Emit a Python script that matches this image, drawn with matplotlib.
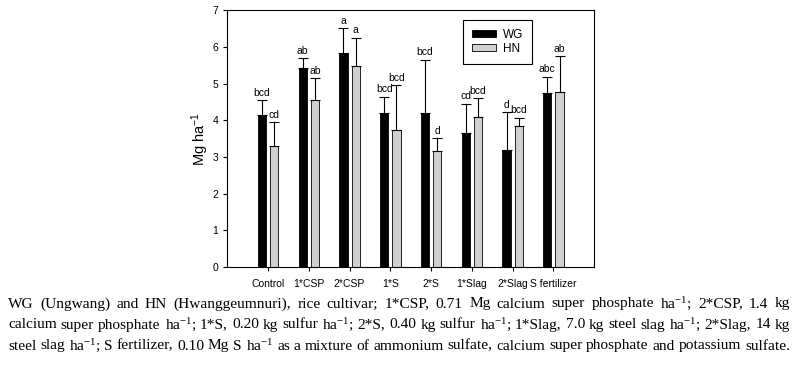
import matplotlib
matplotlib.use("Agg")
import matplotlib.pyplot as plt
import numpy as np

plt.rcParams['font.family'] = ['Liberation Sans', 'DejaVu Sans']
plt.rcParams['mathtext.default'] = 'regular'

treatments = ["Control", "1*CSP", "2*CSP", "1*S", "2*S", "1*Slag", "2*Slag", "S fertilizer"]
wg_mean = [4.13, 5.43, 5.82, 4.19, 4.19, 3.66, 3.19, 4.73]
wg_err = [0.41, 0.26, 0.68, 0.45, 1.45, 0.79, 1.02, 0.46]
hn_mean = [3.30, 4.56, 5.47, 3.74, 3.15, 4.08, 3.83, 4.77]
hn_err = [0.64, 0.58, 0.77, 1.21, 0.36, 0.52, 0.23, 0.97]
wg_letters = ["bcd", "ab", "a", "bcd", "bcd", "cd", "d", "abc"]
hn_letters = ["cd", "ab", "a", "bcd", "d", "bcd", "bcd", "ab"]

caption_lines = [
    "WG (Ungwang) and HN (Hwanggeumnuri), rice cultivar; 1*CSP, 0.71 Mg calcium super phosphate ha$^{-1}$; 2*CSP, 1.4 kg",
    "calcium super phosphate ha$^{-1}$; 1*S, 0.20 kg sulfur ha$^{-1}$; 2*S, 0.40 kg sulfur ha$^{-1}$; 1*Slag, 7.0 kg steel slag ha$^{-1}$; 2*Slag, 14 kg",
    "steel slag ha$^{-1}$; S fertilizer, 0.10 Mg S ha$^{-1}$ as a mixture of ammonium sulfate, calcium super phosphate and potassium sulfate.",
]

fig = plt.figure(figsize=(8, 3.68), dpi=100)
ax = fig.add_axes([0.284, 0.2745, 0.4588, 0.698])

x = np.arange(len(treatments))
w = 0.2
off = 0.15
ax.bar(x - off, wg_mean, w, color="black", edgecolor="black", linewidth=0.6, label="WG", zorder=2)
ax.bar(x + off, hn_mean, w, color="#d0d0d0", edgecolor="black", linewidth=0.6, label="HN", zorder=2)
ax.errorbar(x - off, wg_mean, yerr=[np.zeros(len(x)), wg_err], fmt="none", ecolor="black",
            elinewidth=0.8, capsize=3.5, capthick=0.8, zorder=3)
ax.errorbar(x + off, hn_mean, yerr=[np.zeros(len(x)), hn_err], fmt="none", ecolor="black",
            elinewidth=0.8, capsize=3.5, capthick=0.8, zorder=3)

for i in range(len(x)):
    ax.text(x[i] - off, wg_mean[i] + wg_err[i] + 0.07, wg_letters[i], ha="center", va="bottom", fontsize=7.5)
    ax.text(x[i] + off, hn_mean[i] + hn_err[i] + 0.07, hn_letters[i], ha="center", va="bottom", fontsize=7.5)

ax.set_xlim(-1, 8)
ax.set_ylim(0, 7)
ax.set_xticks(x)
ax.set_xticklabels(treatments, fontsize=7.5)
ax.set_yticks(range(0, 8))
ax.tick_params(axis="y", labelsize=7.5, length=3, width=0.8, direction="out")
ax.tick_params(axis="x", length=3, width=0.8, direction="out", pad=6)
ax.set_ylabel("Mg ha$^{-1}$", fontsize=10.5, labelpad=1)
for s in ax.spines.values():
    s.set_linewidth(0.8)

leg = ax.legend(loc="upper left", bbox_to_anchor=(0.643, 0.962), borderaxespad=0, fontsize=8.5,
                frameon=True, fancybox=False, edgecolor="black", framealpha=1, handlelength=2.0,
                handleheight=0.55, borderpad=0.75, labelspacing=0.2, handletextpad=0.6)
leg.get_frame().set_linewidth(0.8)

# justified caption, size fitted so the longest line just fills the width
renderer = fig.canvas.get_renderer()
x0, x1 = 8 / 800, 790 / 800
ys = [1 - 304 / 368, 1 - 325 / 368, 1 - 346 / 368]
probe = [fig.text(0, 0, ln, fontsize=11, family="Liberation Serif") for ln in caption_lines]
natural = max(t.get_window_extent(renderer).width for t in probe) / fig.bbox.width
for t in probe:
    t.remove()
fs = 11 * (x1 - x0) / natural * 0.995
for line, yy in zip(caption_lines, ys):
    words = line.split(" ")
    texts = [fig.text(0, yy, wd, fontsize=fs, family="Liberation Serif", va="center", ha="left") for wd in words]
    widths = [t.get_window_extent(renderer).width / fig.bbox.width for t in texts]
    gap = (x1 - x0 - sum(widths)) / (len(words) - 1)
    pos = x0
    for t, wd in zip(texts, widths):
        t.set_x(pos)
        pos += wd + gap

fig.savefig("out.png", dpi=100, facecolor="white")
